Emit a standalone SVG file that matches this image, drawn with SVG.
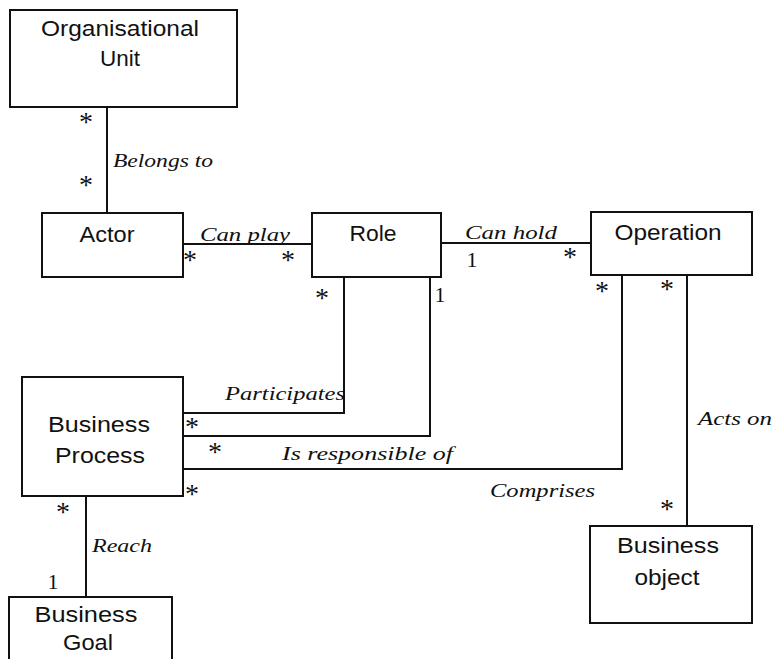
<svg xmlns="http://www.w3.org/2000/svg" width="777" height="659" viewBox="0 0 777 659">
<style>
.box{fill:#fff;stroke:#111;stroke-width:2}
.con{fill:none;stroke:#111;stroke-width:2}
.n{font-family:"Liberation Sans",Arial,sans-serif;font-size:22px;fill:#111;text-anchor:middle}
.l{font-family:"Liberation Serif","Times New Roman",serif;font-style:italic;font-size:18px;fill:#111}
.m{font-family:"Liberation Serif","Times New Roman",serif;font-size:22px;fill:#111;text-anchor:middle}
.s{font-family:"Liberation Serif","Times New Roman",serif;font-size:28px;fill:#111;text-anchor:middle}
</style>
<rect width="777" height="659" fill="#fff"/>
<g id="connectors">
<line class="con" x1="107" y1="107" x2="107" y2="213"/>
<line class="con" x1="183" y1="244" x2="312" y2="244"/>
<line class="con" x1="441" y1="243" x2="591" y2="243"/>
<path class="con" d="M344,277 V413 H183"/>
<path class="con" d="M430,277 V436 H183"/>
<path class="con" d="M622,275 V469 H183"/>
<line class="con" x1="687" y1="275" x2="687" y2="526"/>
<line class="con" x1="86" y1="496" x2="86" y2="597"/>
<text class="l" x="113" y="167" textLength="100" lengthAdjust="spacingAndGlyphs">Belongs to</text>
<text class="l" x="200" y="241" textLength="90" lengthAdjust="spacingAndGlyphs">Can play</text>
<text class="l" x="465" y="239" textLength="92" lengthAdjust="spacingAndGlyphs">Can hold</text>
<text class="l" x="225" y="400" textLength="120" lengthAdjust="spacingAndGlyphs">Participates</text>
<text class="l" x="282" y="460" textLength="171" lengthAdjust="spacingAndGlyphs">Is responsible of</text>
<text class="l" x="490" y="497" textLength="105" lengthAdjust="spacingAndGlyphs">Comprises</text>
<text class="l" x="698" y="425" textLength="74" lengthAdjust="spacingAndGlyphs">Acts on</text>
<text class="l" x="92" y="552" textLength="60" lengthAdjust="spacingAndGlyphs">Reach</text>
<text class="s" x="86" y="131">*</text>
<text class="s" x="86" y="194">*</text>
<text class="s" x="190" y="269">*</text>
<text class="s" x="288" y="269">*</text>
<text class="m" x="472" y="267">1</text>
<text class="s" x="570" y="266">*</text>
<text class="s" x="322" y="307">*</text>
<text class="m" x="440" y="302">1</text>
<text class="s" x="602" y="300">*</text>
<text class="s" x="667" y="298">*</text>
<text class="s" x="192" y="436">*</text>
<text class="s" x="215" y="461">*</text>
<text class="s" x="192" y="503">*</text>
<text class="s" x="667" y="518">*</text>
<text class="s" x="63" y="521">*</text>
<text class="m" x="53" y="589">1</text>
</g>
<g id="org-unit">
<rect class="box" x="10" y="10" width="227" height="97"/>
<text class="n" x="120" y="36" textLength="158" lengthAdjust="spacingAndGlyphs">Organisational</text>
<text class="n" x="120" y="66" textLength="40" lengthAdjust="spacingAndGlyphs">Unit</text>
</g>
<g id="actor">
<rect class="box" x="42" y="213" width="141" height="64"/>
<text class="n" x="107" y="242" textLength="55" lengthAdjust="spacingAndGlyphs">Actor</text>
</g>
<g id="role">
<rect class="box" x="312" y="213" width="129" height="64"/>
<text class="n" x="373" y="241" textLength="47" lengthAdjust="spacingAndGlyphs">Role</text>
</g>
<g id="operation">
<rect class="box" x="591" y="212" width="161" height="63"/>
<text class="n" x="668" y="240" textLength="107" lengthAdjust="spacingAndGlyphs">Operation</text>
</g>
<g id="business-process">
<rect class="box" x="22" y="377" width="161" height="119"/>
<text class="n" x="99" y="432" textLength="102" lengthAdjust="spacingAndGlyphs">Business</text>
<text class="n" x="100" y="463" textLength="90" lengthAdjust="spacingAndGlyphs">Process</text>
</g>
<g id="business-object">
<rect class="box" x="590" y="526" width="162" height="97"/>
<text class="n" x="668" y="553" textLength="102" lengthAdjust="spacingAndGlyphs">Business</text>
<text class="n" x="667" y="585" textLength="65" lengthAdjust="spacingAndGlyphs">object</text>
</g>
<g id="business-goal">
<rect class="box" x="9" y="597" width="163" height="80"/>
<text class="n" x="86" y="622" textLength="103" lengthAdjust="spacingAndGlyphs">Business</text>
<text class="n" x="88" y="650" textLength="50" lengthAdjust="spacingAndGlyphs">Goal</text>
</g>
</svg>
